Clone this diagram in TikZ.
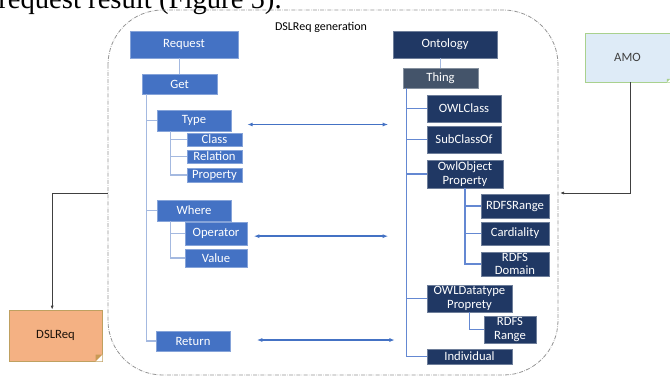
\documentclass[tikz,border=0pt]{standalone}
\usepackage{fontspec}
\setmainfont{Carlito}
\newfontfamily\bodyserif{Liberation Serif}
\usetikzlibrary{positioning, arrows.meta, calc}

\definecolor{reqblue}{HTML}{4472C4}
\definecolor{ontonavy}{HTML}{203864}
\definecolor{thinggray}{HTML}{44546A}
\definecolor{treeblue}{HTML}{A4B9E0}
\definecolor{ontoline}{HTML}{6488D2}
\definecolor{amofill}{HTML}{DEEBF7}
\definecolor{amoedge}{HTML}{A9D18E}
\definecolor{dslfill}{HTML}{F4B183}
\definecolor{dsledge}{HTML}{BFA060}
\definecolor{dslfold}{HTML}{C99A55}

\tikzset{bx/.style 2 args={minimum width=#1*0.75pt, minimum height=#2*0.75pt}}

\begin{document}
\begin{tikzpicture}[
    x=0.75pt, y=-0.75pt,
    reqbox/.style={rectangle, draw=reqblue!65!white, fill=reqblue, text=white, inner sep=0pt,
            font=\fontsize{9.5}{10}\selectfont, align=center},
    ontobox/.style={reqbox, draw=ontonavy!65!white, fill=ontonavy},
    thingbox/.style={reqbox, draw=thinggray!65!white, fill=thinggray},
    notebox/.style={rectangle, inner sep=0pt, font=\fontsize{9.5}{10}\selectfont},
    treeline/.style={treeblue, line width=0.9pt},
    ontotree/.style={ontoline, line width=0.9pt},
    linkarrow/.style={{Latex[length=4pt]}-{Latex[length=4pt]}, reqblue, line width=1.1pt},
    feedarrow/.style={-{Latex[length=3pt]}, black!75, line width=0.6pt},
    frame/.style={gray!85, densely dash dot, line width=0.6pt, rounded corners=41pt},
    ]

    \useasboundingbox (0,0) rectangle (670,379);

    % cut-off line of the page above
    \node[anchor=base west, inner sep=0pt, font=\bodyserif\fontsize{21.5}{24}\selectfont] (caption) at (-2,8) {request result (Figure 5).};

    % generation frame
    \draw[frame] (108,10) rectangle (558,375);
    \node[font=\fontsize{9}{10}\selectfont] (gentitle) at (321,27) {DSLReq generation};
    \coordinate (genL) at (108,193);
    \coordinate (genR) at (560,193);

    % request tree
    \node[reqbox, bx={108}{27}] (request) at (184,44.5) {Request};
    \node[reqbox, bx={75}{20}] (get) at (179.5,84) {Get};
    \node[reqbox, bx={74}{21}] (type) at (194,120.5) {Type};
    \node[reqbox, bx={55}{13}] (class) at (214.5,139.5) {Class};
    \node[reqbox, bx={55}{13}] (relation) at (214.5,156.5) {Relation};
    \node[reqbox, bx={55}{14}] (property) at (214.5,175) {Property};
    \node[reqbox, bx={74}{21}] (where) at (194,210.5) {Where};
    \node[reqbox, bx={62}{23}] (operator) at (216,233.5) {Operator};
    \node[reqbox, bx={62}{18}] (value) at (216,258) {Value};
    \node[reqbox, bx={74}{20}] (return) at (193,341) {Return};

    \draw[treeline] (get.north) -- (get.north |- request.south);
    \draw[treeline] ([xshift=3.75pt]get.south west) |- (return.west);
    \draw[treeline] ([xshift=3.75pt]get.south west) |- (type.west);
    \draw[treeline] ([xshift=3.75pt]get.south west) |- (where.west);
    \foreach \leaf in {class, relation, property}
        \draw[treeline] ([xshift=10.5pt]type.south west) |- (\leaf.west);
    \foreach \leaf in {operator, value}
        \draw[treeline] ([xshift=10.5pt]where.south west) |- (\leaf.west);

    % ontology tree
    \node[ontobox, bx={104}{27}] (ontology) at (445,44.5) {Ontology};
    \node[thingbox, bx={75}{20}] (thing) at (440.5,78) {Thing};
    \node[ontobox, bx={74}{27}] (owlclass) at (464,108.5) {OWLClass};
    \node[ontobox, bx={74}{27}] (subclass) at (464,139.5) {SubClassOf};
    \node[ontobox, bx={76}{28}] (objprop) at (465,174) {OwlObject\\Property};
    \node[ontobox, bx={68}{24}] (rdfsrange) at (515,206) {RDFSRange};
    \node[ontobox, bx={68}{23}] (cardinal) at (515,233.5) {Cardiality};
    \node[ontobox, bx={68}{24}] (rdfsdomain) at (515,264) {RDFS\\Domain};
    \node[ontobox, bx={85}{27}] (dataprop) at (469.5,298.5) {OWLDatatype\\Proprety};
    \node[ontobox, bx={52}{27}] (datarange) at (510,329.5) {RDFS\\Range};
    \node[ontobox, bx={85}{15}] (individual) at (469.5,356.5) {Individual};

    \draw[treeline] (thing.north) -- (thing.north |- ontology.south);
    \foreach \leaf in {owlclass, subclass, objprop, dataprop, individual}
        \draw[ontotree] ([xshift=3pt]thing.south west) |- (\leaf.west);
    \foreach \leaf in {rdfsrange, cardinal, rdfsdomain}
        \draw[ontotree] (objprop.south) |- (\leaf.west);
    \draw[ontotree] (dataprop.south) |- (datarange.west);

    % links between the trees
    \draw[linkarrow] ([xshift=12pt, yshift=-3pt]type.east) -- ([xshift=-29pt, yshift=-3pt]owlclass.west |- type.east);
    \draw[linkarrow] ([xshift=5pt, yshift=-2pt]operator.east) -- ([xshift=-29pt, yshift=-2pt]owlclass.west |- operator.east);
    \draw[linkarrow] ([xshift=20pt, yshift=0.75pt]return.east) -- ([xshift=-24pt, yshift=0.75pt]owlclass.west |- return.east);

    % AMO input
    \node[notebox, draw=amoedge, fill=amofill, text=black!75, bx={85}{49}] (amo) at (627.5,57.5) {AMO};
    \fill[white] (amo.south east) -- ++(-2.5pt,0) -- ++(2.5pt,2.5pt) -- cycle;
    \fill[amoedge] ([xshift=-2.5pt]amo.south east) -- ++(2.5pt,2.5pt) -- ++(-2.5pt,0) -- cycle;
    \draw[feedarrow] ([xshift=2pt]amo.south) |- (genR);

    % DSLReq output
    \node[notebox, draw=dsledge, fill=dslfill, text=black!85!brown, bx={93}{51}] (dslreq) at (55.5,335.5) {DSLReq};
    \fill[white] (dslreq.south east) -- ++(-5pt,0) -- ++(5pt,5pt) -- cycle;
    \fill[dslfold] ([xshift=-5pt]dslreq.south east) -- ++(5pt,5pt) -- ++(-5pt,0) -- cycle;
    \draw[feedarrow] (genL) -| ([xshift=-2.5pt]dslreq.north);

\end{tikzpicture}
\end{document}
